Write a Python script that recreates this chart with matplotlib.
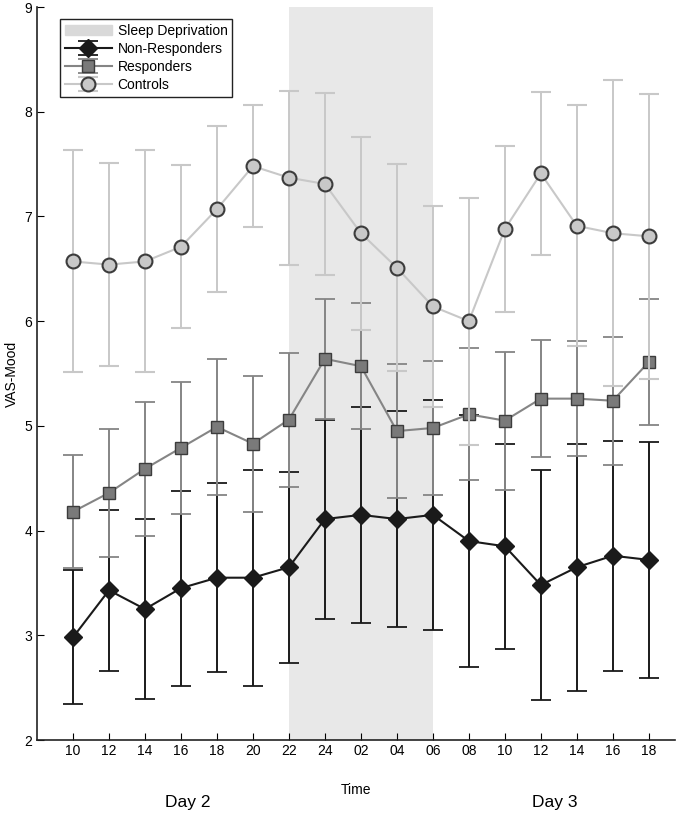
import matplotlib
matplotlib.use('Agg')
import matplotlib.pyplot as plt
import matplotlib.patches as mpatches
import numpy as np

plt.rcParams['font.family'] = ['Liberation Sans', 'DejaVu Sans']

# time points (two days, sleep deprivation night in between)
time_labels = ['10', '12', '14', '16', '18', '20', '22', '24', '02', '04',
               '06', '08', '10', '12', '14', '16', '18']

# VAS-Mood means and SD
nonresp_mean = [2.98, 3.43, 3.25, 3.45, 3.55, 3.55, 3.65, 4.11, 4.15, 4.11,
                4.15, 3.90, 3.85, 3.48, 3.65, 3.76, 3.72]
nonresp_sd = [0.64, 0.77, 0.86, 0.93, 0.90, 1.03, 0.91, 0.95, 1.03, 1.03,
              1.10, 1.20, 0.98, 1.10, 1.18, 1.10, 1.13]

resp_mean = [4.18, 4.36, 4.59, 4.79, 4.99, 4.83, 5.06, 5.64, 5.57, 4.95,
             4.98, 5.11, 5.05, 5.26, 5.26, 5.24, 5.61]
resp_sd = [0.54, 0.61, 0.64, 0.63, 0.65, 0.65, 0.64, 0.57, 0.60, 0.64,
           0.64, 0.63, 0.66, 0.56, 0.55, 0.61, 0.60]

ctrl_mean = [6.57, 6.54, 6.57, 6.71, 7.07, 7.48, 7.37, 7.31, 6.84, 6.51,
             6.14, 6.00, 6.88, 7.41, 6.91, 6.84, 6.81]
ctrl_sd = [1.06, 0.97, 1.06, 0.78, 0.79, 0.58, 0.83, 0.87, 0.92, 0.99,
           0.96, 1.18, 0.79, 0.78, 1.15, 1.46, 1.36]

sd_start, sd_end = 6, 10   # 22:00 -> 06:00

fig = plt.figure(figsize=(6.85, 8.14), dpi=100)
ax = fig.add_axes([0.054, 0.0909, 0.931, 0.9005])

x = np.arange(len(time_labels))

ax.axvspan(sd_start, sd_end, color='#e8e8e8', lw=0, zorder=0)

nr = ax.errorbar(x, nonresp_mean, yerr=nonresp_sd, color='#1a1a1a', lw=1.5,
                 elinewidth=1.4, capsize=7, capthick=1.3, marker='D', markersize=9,
                 markerfacecolor='#1a1a1a', markeredgecolor='#1a1a1a', zorder=2)
rp = ax.errorbar(x, resp_mean, yerr=resp_sd, color='#858585', lw=1.5,
                 elinewidth=1.4, capsize=7, capthick=1.3, marker='s', markersize=8,
                 markerfacecolor='#7a7a7a', markeredgecolor='#3c3c3c', zorder=3)
ct = ax.errorbar(x, ctrl_mean, yerr=ctrl_sd, color='#c8c8c8', lw=1.5,
                 elinewidth=1.4, capsize=7, capthick=1.3, marker='o', markersize=10,
                 markerfacecolor='#c8c8c8', markeredgecolor='#3c3c3c',
                 markeredgewidth=1.5, zorder=4)

ax.set_xlim(-1, 16.72)
ax.set_ylim(2, 9)
ax.set_xticks(x)
ax.set_xticklabels(time_labels)
ax.set_yticks(range(2, 10))
ax.tick_params(direction='in', length=5, labelsize=10)
ax.tick_params(axis='x', pad=3)
for s in ['top', 'right']:
    ax.spines[s].set_visible(False)
for s in ['left', 'bottom']:
    ax.spines[s].set_linewidth(1.2)
    ax.spines[s].set_color('#222222')

ax.set_xlabel('Time', fontsize=10, labelpad=18)
ax.set_ylabel('VAS-Mood', fontsize=10, labelpad=4)

tr = ax.get_xaxis_transform()
ax.text(3.2, -0.085, 'Day 2', transform=tr, ha='center', va='center', fontsize=12.5)
ax.text(13.4, -0.085, 'Day 3', transform=tr, ha='center', va='center', fontsize=12.5)

patch = mpatches.Patch(color='#d9d9d9', label='Sleep Deprivation')
leg = ax.legend([patch, nr, rp, ct],
                ['Sleep Deprivation', 'Non-Responders', 'Responders', 'Controls'],
                loc='upper left', bbox_to_anchor=(0.036, 0.984), borderaxespad=0,
                fontsize=10, handlelength=3.4, labelspacing=0.3,
                fancybox=False, framealpha=1, edgecolor='#222222',
                borderpad=0.35, handletextpad=0.4)
leg.get_frame().set_linewidth(1.0)

fig.savefig('out.png', dpi=100)
